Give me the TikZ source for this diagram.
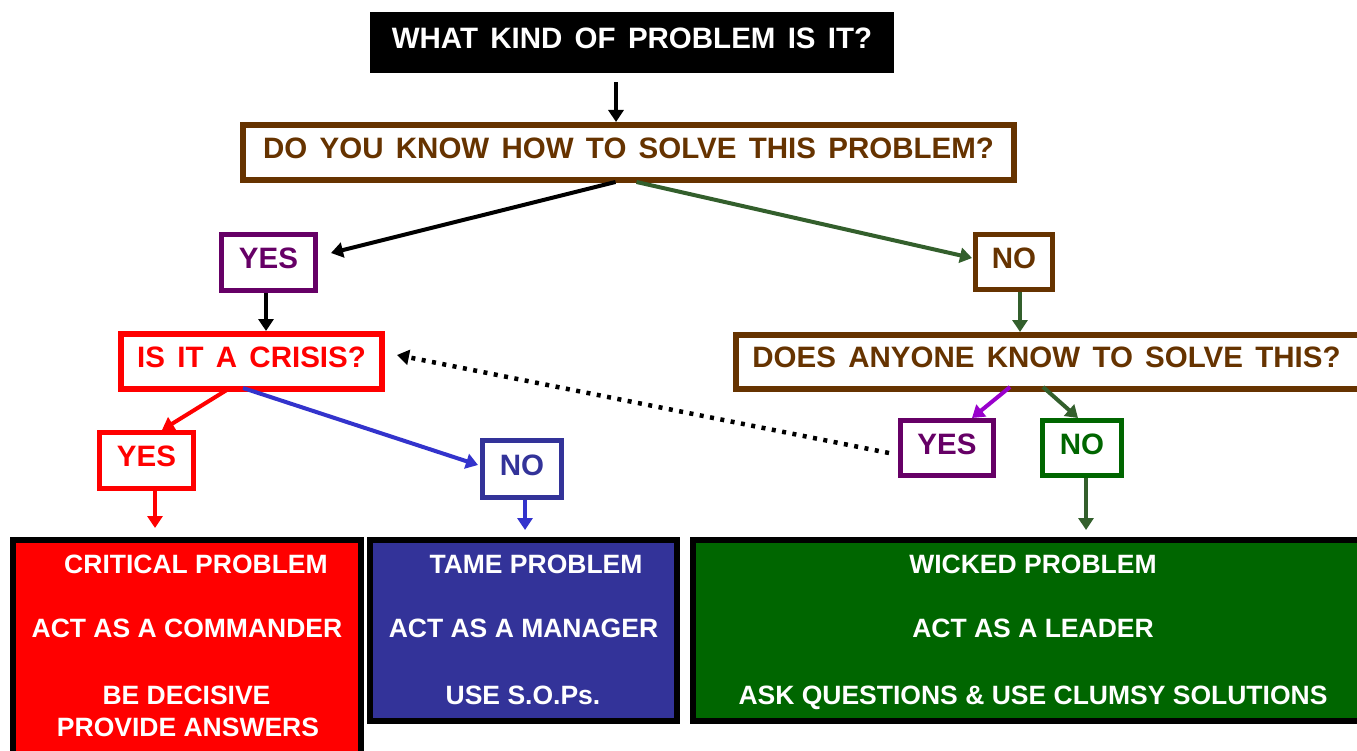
\documentclass[tikz,border=0pt]{standalone}
\usepackage{fontspec}
\setmainfont{Liberation Sans}
\newfontfamily\questionfont{Liberation Sans}[WordSpace=1.5]
\usetikzlibrary{arrows.meta,calc}
\definecolor{qbrown}{HTML}{663300}
\definecolor{qpurple}{HTML}{660066}
\definecolor{qred}{HTML}{FF0000}
\definecolor{qblue}{HTML}{333399}
\definecolor{qgreen}{HTML}{006600}
\definecolor{arrgreen}{HTML}{335F2C}
\definecolor{arrblue}{HTML}{3333CC}
\definecolor{arrmag}{HTML}{9900CC}
\begin{document}
\begin{tikzpicture}[x=1pt,y=-1pt,
  bigfont/.style={font=\questionfont\bfseries\fontsize{29.5}{32}\selectfont},
  smallfont/.style={font=\bfseries\fontsize{26.5}{30}\selectfont},
  qbox/.style={draw, line width=5pt, fill=white, inner sep=0pt, bigfont, text depth=8pt},
  resultbox/.style={draw=black, line width=6pt, inner sep=0pt},
  restext/.style={smallfont, text=white, inner sep=0pt, text depth=0pt},
  arr/.style={line width=4pt, -{Triangle[length=12pt,width=15pt]}},
  dotarr/.style={line width=4.5pt, dash pattern=on 4pt off 6.5pt, -{Triangle[length=12pt,width=15pt]}}]
\useasboundingbox (0,0) rectangle (1357,751);
\clip (0,0) rectangle (1357,751);
\fill[white] (0,0) rectangle (1357,751);

% question boxes
\node[fill=black, text=white, bigfont, inner sep=0pt, minimum width=524pt, minimum height=61pt, text depth=8pt]
  (top) at (632,42.5) {WHAT KIND OF PROBLEM IS IT?};
\node[qbox, draw=qbrown, text=qbrown, line width=6pt, minimum width=771pt, minimum height=55pt]
  (q1) at (628.5,152.5) {DO YOU KNOW HOW TO SOLVE THIS PROBLEM?};
\node[qbox, draw=qpurple, text=qpurple, minimum width=94pt, minimum height=56pt]
  (yes1) at (268.5,262.5) {YES};
\node[qbox, draw=qbrown, text=qbrown, minimum width=77pt, minimum height=55pt]
  (no1) at (1014,262) {NO};
\node[qbox, draw=qred, text=qred, line width=6pt, minimum width=261pt, minimum height=55pt]
  (crisis) at (251.5,361.5) {IS IT A CRISIS?};
\node[qbox, draw=qbrown, line width=6pt, minimum width=629pt, minimum height=54pt]
  (anyone) at (1050.5,362) {};
\node[bigfont, text=qbrown, inner sep=0pt, text depth=0pt]
  (anyonetext) at (1046.5,357.5) {DOES ANYONE KNOW TO SOLVE THIS?};
\node[qbox, draw=qred, text=qred, minimum width=94pt, minimum height=56pt]
  (yes2) at (146.5,460.5) {YES};
\node[qbox, draw=qblue, text=qblue, minimum width=79pt, minimum height=57pt]
  (no2) at (522,469) {NO};
\node[qbox, draw=qpurple, text=qpurple, minimum width=93pt, minimum height=55pt]
  (yes3) at (947,448) {YES};
\node[qbox, draw=qgreen, text=qgreen, minimum width=79pt, minimum height=55pt]
  (no3) at (1082,448) {NO};

% result boxes
\node[resultbox, fill=qred, minimum width=348pt, minimum height=240pt] (critical) at (187,660) {};
\node[resultbox, fill=qblue, minimum width=307pt, minimum height=181pt] (tame) at (523.5,630.5) {};
\node[resultbox, fill=qgreen, minimum width=672.5pt, minimum height=181pt] (wicked) at (1028.75,630.5) {};

\node[restext] (crit1) at (196,564) {CRITICAL PROBLEM};
\node[restext] (crit2) at (187,628) {ACT AS A COMMANDER};
\node[restext] (crit3) at (186.5,695) {BE DECISIVE};
\node[restext] (crit4) at (188,727) {PROVIDE ANSWERS};
\node[restext] (tame1) at (536,564) {TAME PROBLEM};
\node[restext] (tame2) at (523.5,628) {ACT AS A MANAGER};
\node[restext] (tame3) at (523,695) {USE S.O.Ps.};
\node[restext] (wick1) at (1033,564) {WICKED PROBLEM};
\node[restext] (wick2) at (1033,628) {ACT AS A LEADER};
\node[restext] (wick3) at (1033,695) {ASK QUESTIONS \& USE CLUMSY SOLUTIONS};

% connectors
\draw[arr, black, shorten <=9pt] (top.south -| 616,0) -- (q1.north -| 616,0);
\draw[arr, black] ($(q1.south)+(-13,-1)$) -- ($(yes1.east)+(13,-9.5)$);
\draw[arr, arrgreen] ($(q1.south)+(8,-1)$) -- ($(no1.west)+(-1,-4)$);
\draw[arr, black] (yes1.south -| 266,0) -- (crisis.north -| 266,0);
\draw[arr, arrgreen] (no1.south -| 1020,0) -- (anyone.north -| 1020,0);
\draw[arr, qred] ($(crisis.south)+(-21.5,-4)$) -- ($(yes2.north)+(15.5,0)$);
\draw[arr, arrblue] ($(crisis.south)+(-8.5,-4)$) -- ($(no2.west)+(-2,-4)$);
\draw[arr, arrmag] ($(anyone.south)+(-40.5,-5)$) -- ($(yes3.north)+(25,0)$);
\draw[arr, arrgreen] ($(anyone.south)+(-7.5,-5)$) -- ($(no3.north)+(-4,0)$);
\draw[dotarr, black] ($(yes3.west)+(-9,5)$) -- ($(crisis.east)+(12,-6.5)$);
\draw[arr, qred] (yes2.south -| 155,0) -- ($(critical.north -| 155,0)+(0,-9)$);
\draw[arr, arrblue] (no2.south -| 525,0) -- ($(tame.north -| 525,0)+(0,-7)$);
\draw[arr, arrgreen] (no3.south -| 1086,0) -- ($(wicked.north -| 1086,0)+(0,-7)$);
\end{tikzpicture}
\end{document}
